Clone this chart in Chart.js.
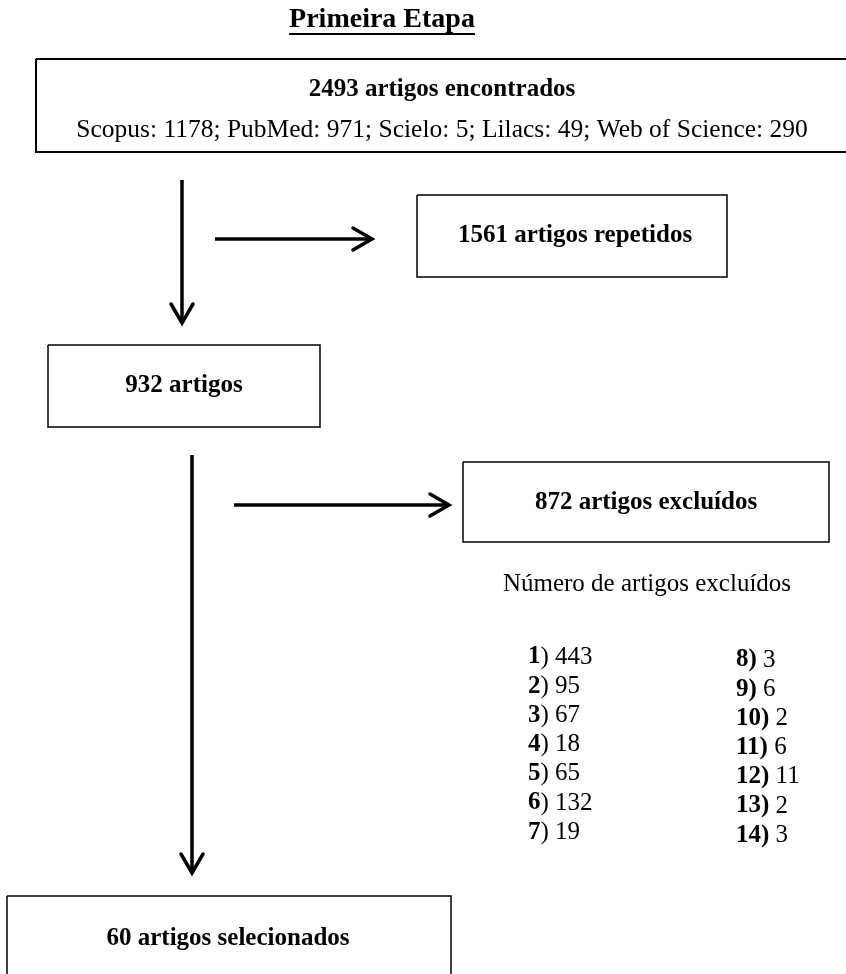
<!DOCTYPE html>
<html lang="pt">
<head>
  <meta charset="UTF-8">
  <title>Primeira Etapa</title>
  <script src="https://cdn.jsdelivr.net/npm/chart.js"></script>
  <style>
    body { margin: 0; background: #fff; }
    #flow { display: block; }
  </style>
</head>
<body>
  <canvas id="flow" width="846" height="974"></canvas>
  <script>
    // dados do fluxograma
    const stageTitle = 'Primeira Etapa';
    const foundTotal = 2493;
    const sourceNames = ['Scopus', 'PubMed', 'Scielo', 'Lilacs', 'Web of Science'];
    const sourceCounts = [1178, 971, 5, 49, 290];
    const repeatedTotal = 1561;
    const remainingTotal = 932;
    const excludedTotal = 872;
    const excludedTitle = 'Número de artigos excluídos';
    const exclusionCodes = [1, 2, 3, 4, 5, 6, 7, 8, 9, 10, 11, 12, 13, 14];
    const exclusionCounts = [443, 95, 67, 18, 65, 132, 19, 3, 6, 2, 6, 11, 2, 3];
    const selectedTotal = 60;

    // layout (em unidades das escalas: 0..846 x 0..974)
    const boxes = [
      { x0: 36, y0: 59, x1: 852, y1: 152, w: 2 },
      { x0: 417, y0: 195, x1: 727, y1: 277, w: 1.5 },
      { x0: 48, y0: 345, x1: 320, y1: 427, w: 1.5 },
      { x0: 463, y0: 462, x1: 829, y1: 542, w: 1.5 },
      { x0: 7, y0: 896, x1: 451, y1: 990, w: 1.5 }
    ];
    const arrows = [
      { x0: 182, y0: 180, x1: 182, y1: 323 },
      { x0: 215, y0: 239, x1: 372, y1: 239 },
      { x0: 234, y0: 505, x1: 449, y1: 505 },
      { x0: 192, y0: 455, x1: 192, y1: 873 }
    ];

    const datasets = [];
    boxes.forEach(b => {
      datasets.push({
        data: [{x: b.x0, y: b.y0}, {x: b.x1, y: b.y0}, {x: b.x1, y: b.y1}, {x: b.x0, y: b.y1}, {x: b.x0, y: b.y0}],
        showLine: true, borderColor: '#000', borderWidth: b.w, pointRadius: 0, tension: 0
      });
    });
    arrows.forEach(a => {
      datasets.push({
        data: [{x: a.x0, y: a.y0}, {x: a.x1, y: a.y1}],
        showLine: true, borderColor: '#000', borderWidth: 3.5, pointRadius: 0
      });
      // ponta da seta (chevron aberto)
      const dx = Math.sign(a.x1 - a.x0), dy = Math.sign(a.y1 - a.y0);
      const L = 19, H = 11;
      datasets.push({
        data: [
          {x: a.x1 - dx * L - dy * H, y: a.y1 - dy * L - dx * H},
          {x: a.x1, y: a.y1},
          {x: a.x1 - dx * L + dy * H, y: a.y1 - dy * L + dx * H}
        ],
        showLine: true, borderColor: '#000', borderWidth: 3.5, pointRadius: 0,
        borderJoinStyle: 'miter', borderCapStyle: 'round'
      });
    });

    const serif = '"Liberation Serif", "Times New Roman", serif';

    const textPlugin = {
      id: 'flowText',
      afterDatasetsDraw(chart) {
        const {ctx, scales: {x, y}} = chart;
        const px = v => x.getPixelForValue(v), py = v => y.getPixelForValue(v);
        ctx.save();
        ctx.fillStyle = '#000';
        ctx.textBaseline = 'middle';
        ctx.textAlign = 'center';

        const put = (txt, cx, cy, font) => { ctx.font = font; ctx.fillText(txt, px(cx), py(cy)); };

        // título sublinhado
        put(stageTitle, 382, 20, 'bold 28px ' + serif);
        ctx.font = 'bold 28px ' + serif;
        const tw = ctx.measureText(stageTitle).width;
        ctx.fillRect(px(382) - tw / 2, py(33), tw, 2);

        put(foundTotal + ' artigos encontrados', 442, 90, 'bold 25px ' + serif);
        const src = sourceNames.map((n, i) => n + ': ' + sourceCounts[i]).join('; ');
        put(src, 442, 130, '25.5px ' + serif);
        put(repeatedTotal + ' artigos repetidos', 575, 236, 'bold 25px ' + serif);
        put(remainingTotal + ' artigos', 184, 386, 'bold 25px ' + serif);
        put(excludedTotal + ' artigos excluídos', 646, 503, 'bold 25px ' + serif);
        put(excludedTitle, 647, 584, '25px ' + serif);
        put(selectedTotal + ' artigos selecionados', 228, 939, 'bold 25px ' + serif);

        // lista de exclusões em duas colunas
        ctx.textAlign = 'left';
        exclusionCodes.forEach((c, i) => {
          const col = i < 7 ? 0 : 1;
          const row = i % 7;
          const lx = col === 0 ? 528 : 736;
          const ly = (col === 0 ? 657 : 660) + row * 29.2;
          const boldPart = col === 0 ? String(c) : c + ')';
          const normPart = (col === 0 ? ') ' : ' ') + exclusionCounts[i];
          ctx.font = 'bold 25px ' + serif;
          ctx.fillText(boldPart, px(lx), py(ly));
          const bw = ctx.measureText(boldPart).width;
          ctx.font = '25px ' + serif;
          ctx.fillText(normPart, px(lx) + bw, py(ly));
        });
        ctx.restore();
      }
    };

    new Chart(document.getElementById('flow').getContext('2d'), {
      type: 'scatter',
      data: { datasets },
      options: {
        responsive: false,
        animation: false,
        devicePixelRatio: 1,
        layout: { padding: 0 },
        plugins: { legend: { display: false }, tooltip: { enabled: false } },
        scales: {
          x: { type: 'linear', min: 0, max: 846, display: false },
          y: { type: 'linear', min: 0, max: 974, reverse: true, display: false }
        },
        clip: false
      },
      plugins: [textPlugin]
    });
  </script>
</body>
</html>
